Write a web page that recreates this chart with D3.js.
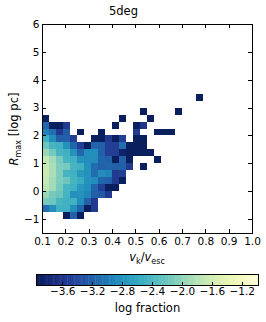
<!DOCTYPE html>
<html>
<head>
<meta charset="utf-8">
<script src="https://cdn.jsdelivr.net/npm/d3@7"></script>
<style>
  body { margin: 0; background: #fff; }
  text { font-family: "DejaVu Sans", sans-serif; fill: #000; }
</style>
</head>
<body>
<div id="chart"></div>
<script>
// bin layout of the 2d histogram
var xBinStart = 0.1, xBinWidth = 0.03;
var yBinStart = -1.5, yBinHeight = 0.25;

// lower edge of each row (top row first) and its log fraction per column
var rowLows = [3.25, 3.0, 2.75, 2.5, 2.25, 2.0, 1.75, 1.5, 1.25, 1.0, 0.75, 0.5, 0.25, 0.0, -0.25, -0.5, -0.75, -1.0];
var _ = null;
var logFraction = [
  [_, _, _, _, _, _, _, _, _, _, _, _, _, _, _, _, _, _, _, _, _, _, -3.92],
  [],
  [_, _, _, _, _, _, _, _, _, _, _, _, _, _, -3.92, _, _, _, _, -3.92],
  [-3.92, _, _, _, _, _, _, _, _, _, _, -3.92, _, _, _, -3.92],
  [-3.15, -3.92, -3.92, -3.55, _, _, _, _, _, _, -3.92, _, _, -3.92, -3.6],
  [-2.95, -3.1, -3.55, -3.25, _, -3.92, _, _, -3.92, _, _, _, _, -3.55, _, _, -3.92, -3.92, -3.92],
  [-2.5, -2.85, -3.2, -3.2, -3.5, _, _, -3.92, -3.92, -3.55, -3.92, -3.5, _, -3.92, -3.92],
  [-2.2, -2.45, -2.5, -2.8, -3.15, -3.5, -3.92, -3.15, -3.2, -3.5, -3.5, -3.1, -3.92, -3.92, -3.92],
  [-1.95, -2.15, -2.45, -2.5, -2.8, -3.15, -2.85, -2.85, -3.2, -3.5, -3.5, -3.85, -3.92, -3.92, -3.92, -3.92],
  [-1.7, -1.9, -2.15, -2.45, -2.5, -2.8, -2.85, -2.85, -3.15, -3.2, -3.92, -3.2, -3.92, _, _, _, -3.92],
  [-1.65, -1.85, -2.1, -2.15, -2.45, -2.5, -2.8, -3.1, -3.2, -3.15, -3.2, -3.2, -3.55, _, -3.92],
  [-1.65, -1.85, -2.1, -2.45, -2.5, -2.75, -2.8, -3.1, -2.85, -2.9, -3.55, -3.5],
  [-1.7, -1.9, -2.1, -2.2, -2.45, -2.55, -2.8, -2.85, -3.15, -3.2, -3.55, -3.92],
  [-1.75, -1.9, -2.15, -2.45, -2.5, -2.75, -2.85, -3.15, -3.5, -3.92, -3.92],
  [-1.95, -2.15, -2.2, -2.45, -2.8, -2.8, -2.9, -3.2, -3.25, -3.55],
  [-2.15, -2.2, -2.45, -2.5, -2.5, -2.85, -3.2, -3.55],
  [-3.1, -2.85, -2.5, -2.5, -2.85, -3.15, -3.92, -3.55],
  [_, _, _, -3.92, -3.2, -3.92]
];

var xTicks = [0.1, 0.2, 0.3, 0.4, 0.5, 0.6, 0.7, 0.8, 0.9, 1.0];
var xTickLabels = ["0.1", "0.2", "0.3", "0.4", "0.5", "0.6", "0.7", "0.8", "0.9", "1.0"];
var yTicks = [-1, 0, 1, 2, 3, 4, 5, 6];
var yTickLabels = ["\u22121", "0", "1", "2", "3", "4", "5", "6"];
var cbTicks = [-3.6, -3.2, -2.8, -2.4, -2.0, -1.6, -1.2];
var cbTickLabels = ["\u22123.6", "\u22123.2", "\u22122.8", "\u22122.4", "\u22122.0", "\u22121.6", "\u22121.2"];
var colorMin = -3.95, colorMax = -0.97;

var svgWidth = 266, svgHeight = 322;
var plot = { left: 42, right: 252, top: 24, bottom: 233 };

var svg = d3.select("#chart").append("svg")
  .attr("width", svgWidth)
  .attr("height", svgHeight);

var x = d3.scaleLinear().domain([0.1, 1.0]).range([plot.left, plot.right]);
var y = d3.scaleLinear().domain([-1.5, 6]).range([plot.bottom, plot.top]);
var color = d3.scaleSequential(d3.interpolateYlGnBu).domain([colorMax, colorMin]);

// flatten the grid into cells
var cells = [];
logFraction.forEach(function(row, r) {
  row.forEach(function(v, c) {
    if (v !== null && v !== undefined) {
      cells.push({ x0: xBinStart + c * xBinWidth, y0: rowLows[r], v: v });
    }
  });
});

svg.append("g")
  .selectAll("rect")
  .data(cells)
  .enter()
  .append("rect")
  .attr("x", d => x(d.x0))
  .attr("y", d => y(d.y0 + yBinHeight))
  .attr("width", d => x(d.x0 + xBinWidth) - x(d.x0))
  .attr("height", d => y(d.y0) - y(d.y0 + yBinHeight))
  .attr("fill", d => color(d.v))
  .attr("shape-rendering", "crispEdges");

// axes with inward ticks on all four sides
var bottomAxis = d3.axisBottom(x).tickValues(xTicks)
  .tickFormat((d, i) => xTickLabels[i]).tickSizeInner(-4).tickSizeOuter(0).tickPadding(5);
var topAxis = d3.axisTop(x).tickValues(xTicks).tickFormat("").tickSizeInner(-4).tickSizeOuter(0);
var leftAxis = d3.axisLeft(y).tickValues(yTicks)
  .tickFormat((d, i) => yTickLabels[i]).tickSizeInner(-4).tickSizeOuter(0).tickPadding(2.5);
var rightAxis = d3.axisRight(y).tickValues(yTicks).tickFormat("").tickSizeInner(-4).tickSizeOuter(0);

function styleAxis(g) {
  g.select(".domain").remove();
  g.selectAll("line").attr("stroke", "#000").attr("shape-rendering", "crispEdges");
  g.selectAll("text").style("font-size", "10.5px").attr("fill", "#000");
}

svg.append("g").attr("transform", `translate(0, ${plot.bottom})`).call(bottomAxis).call(styleAxis);
svg.append("g").attr("transform", `translate(0, ${plot.top})`).call(topAxis).call(styleAxis);
svg.append("g").attr("transform", `translate(${plot.left}, 0)`).call(leftAxis).call(styleAxis);
svg.append("g").attr("transform", `translate(${plot.right}, 0)`).call(rightAxis).call(styleAxis);

svg.append("rect")
  .attr("x", plot.left + 0.5)
  .attr("y", plot.top + 0.5)
  .attr("width", plot.right - plot.left)
  .attr("height", plot.bottom - plot.top)
  .attr("fill", "none")
  .attr("stroke", "#000");

// title
svg.append("text")
  .attr("x", 123.5)
  .attr("y", 15)
  .attr("text-anchor", "middle")
  .style("font-size", "11.5px")
  .text("5deg");

// y label: R_max [log pc]
var yLabel = svg.append("text")
  .attr("transform", "translate(17.5, 129) rotate(-90)")
  .attr("text-anchor", "middle")
  .style("font-size", "11.5px");
yLabel.append("tspan").style("font-style", "italic").text("R");
yLabel.append("tspan").attr("dy", 3).style("font-size", "8px").text("max");
yLabel.append("tspan").attr("dy", -3).text(" [log pc]");

// x label: v_k / v_esc
var xLabel = svg.append("text")
  .attr("x", 147)
  .attr("y", 261)
  .attr("text-anchor", "middle")
  .style("font-size", "11.5px");
xLabel.append("tspan").style("font-style", "italic").text("v");
xLabel.append("tspan").attr("dy", 3).style("font-size", "8px").text("k");
xLabel.append("tspan").attr("dy", -3).text("/");
xLabel.append("tspan").style("font-style", "italic").text("v");
xLabel.append("tspan").attr("dy", 3).style("font-size", "8px").text("esc");

// colorbar
var cb = { left: 36, right: 259, top: 274, bottom: 285 };
var cbX = d3.scaleLinear().domain([colorMin, colorMax]).range([cb.left, cb.right]);
var nSteps = 64;
var cbSteps = d3.range(nSteps).map(i => colorMin + (colorMax - colorMin) * i / nSteps);
var stepW = (colorMax - colorMin) / nSteps;

svg.append("g")
  .selectAll("rect")
  .data(cbSteps)
  .enter()
  .append("rect")
  .attr("x", d => cbX(d))
  .attr("y", cb.top)
  .attr("width", d => cbX(d + stepW) - cbX(d) + 0.4)
  .attr("height", cb.bottom - cb.top)
  .attr("fill", d => color(d + stepW / 2));

var cbAxis = d3.axisBottom(cbX).tickValues(cbTicks)
  .tickFormat((d, i) => cbTickLabels[i]).tickSizeInner(-3).tickSizeOuter(0).tickPadding(2.5);
svg.append("g").attr("transform", `translate(0, ${cb.bottom})`).call(cbAxis).call(styleAxis);

svg.append("rect")
  .attr("x", cb.left + 0.5)
  .attr("y", cb.top + 0.5)
  .attr("width", cb.right - cb.left - 1)
  .attr("height", cb.bottom - cb.top)
  .attr("fill", "none")
  .attr("stroke", "#000");

svg.append("text")
  .attr("x", (cb.left + cb.right) / 2)
  .attr("y", 312)
  .attr("text-anchor", "middle")
  .style("font-size", "11.5px")
  .text("log fraction");
</script>
</body>
</html>
